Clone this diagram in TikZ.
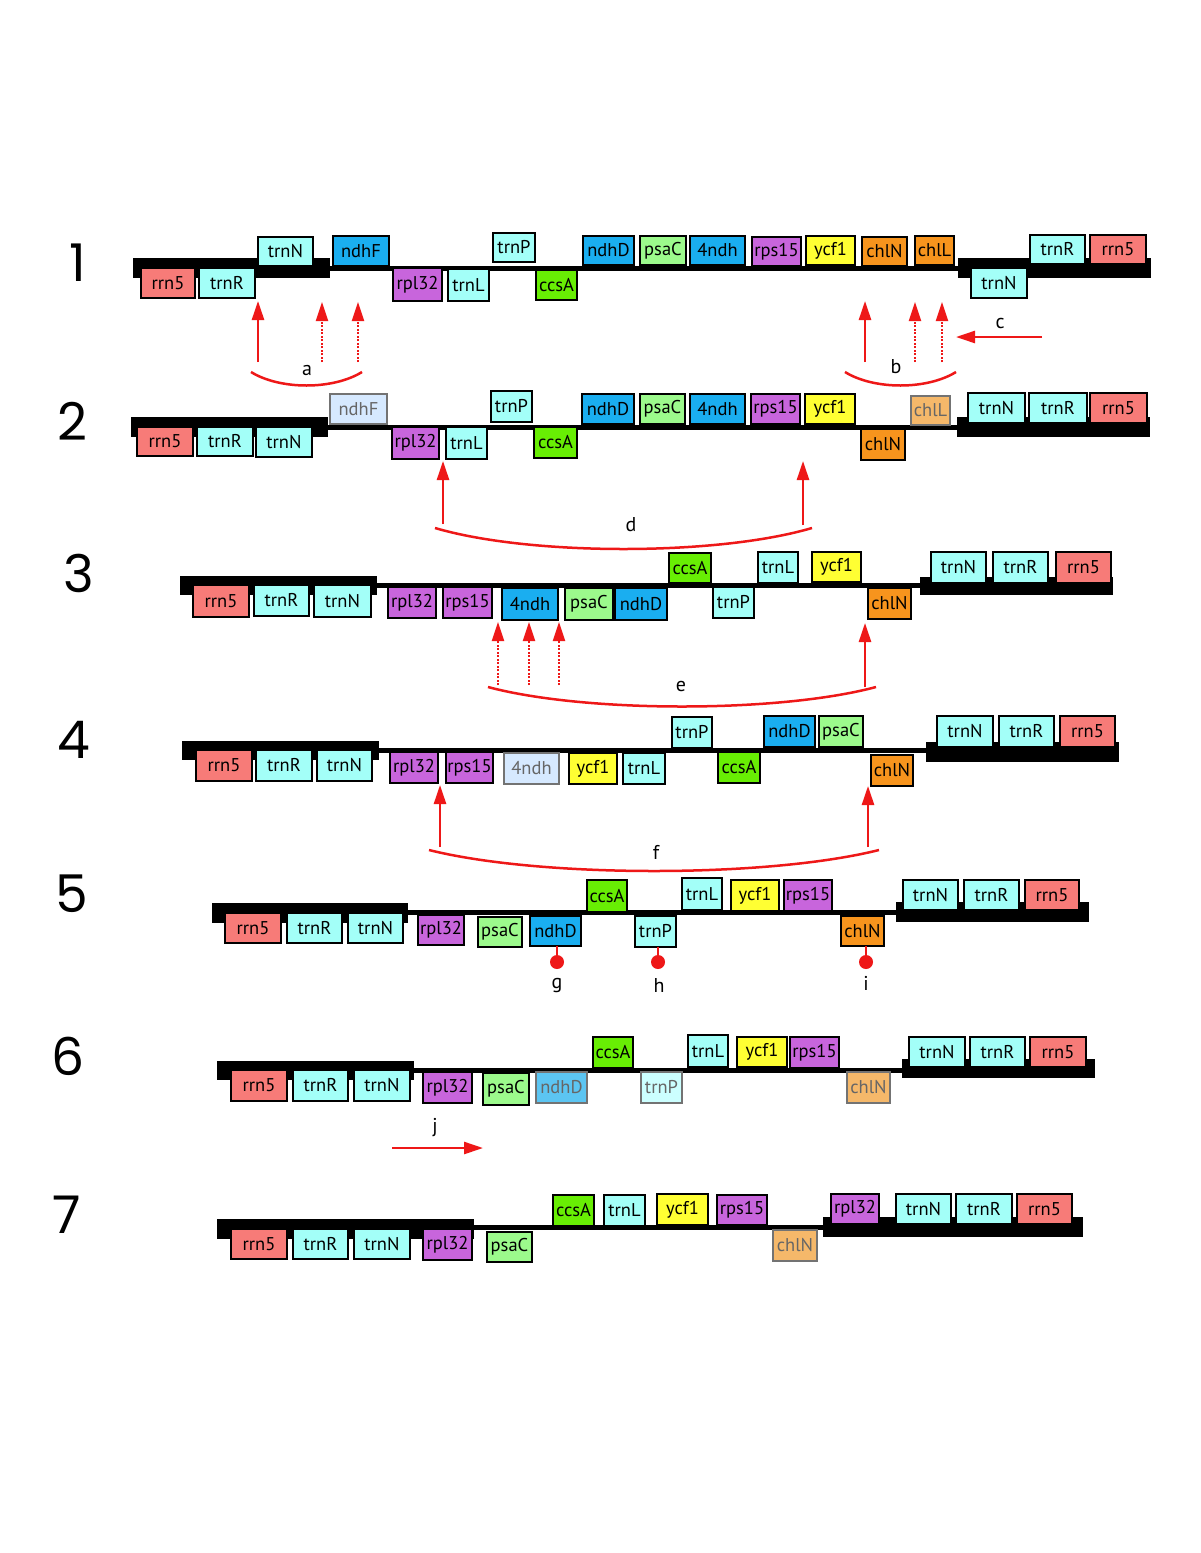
\documentclass[tikz,border=0pt]{standalone}
\usepackage{fontspec}
\setmainfont{PT Sans}
\newfontfamily\numfont{Poppins}
\usetikzlibrary{arrows.meta}
\definecolor{rrnc}{RGB}{247,123,120}
\definecolor{trnc}{RGB}{163,255,248}
\definecolor{ndhc}{RGB}{26,174,240}
\definecolor{psac}{RGB}{156,250,140}
\definecolor{rpc}{RGB}{200,101,220}
\definecolor{ycfc}{RGB}{255,255,51}
\definecolor{chlc}{RGB}{247,148,29}
\definecolor{ccsc}{RGB}{104,238,4}
\definecolor{fndhc}{RGB}{214,233,255}
\definecolor{fchlc}{RGB}{245,184,106}
\definecolor{fndhDc}{RGB}{92,197,242}
\definecolor{ftrnc}{RGB}{204,255,255}
\definecolor{arrred}{RGB}{238,24,24}
\newcommand\genefont{\fontsize{18.5}{18.5}\selectfont}
\newcommand\gn[7]{%
  \pgfmathsetmacro\gw{#5-#3}\pgfmathsetmacro\gh{#6-#4}%
  \pgfmathsetmacro\gx{(#3+#5)/2}\pgfmathsetmacro\gy{(#4+#6)/2}%
  \node[#2,minimum width=\gw pt,minimum height=\gh pt] (#1) at (\gx,\gy) {#7};}
\newcommand\bb[4]{\fill[black] (#1,#2) rectangle (#3,#4);}
\tikzset{
  gbox/.style={draw=black, line width=2.5pt, inner sep=0pt, outer sep=0pt, font=\genefont, text=black},
  rrn/.style={gbox, fill=rrnc},
  trn/.style={gbox, fill=trnc},
  ndh/.style={gbox, fill=ndhc},
  psa/.style={gbox, fill=psac},
  rp/.style={gbox, fill=rpc},
  ycf/.style={gbox, fill=ycfc},
  chl/.style={gbox, fill=chlc},
  ccs/.style={gbox, fill=ccsc},
  faded/.style={gbox, draw=black!55, text=black!60},
  fndh/.style={faded, fill=fndhc},
  fchl/.style={faded, fill=fchlc},
  fndhD/.style={faded, fill=fndhDc},
  ftrn/.style={faded, fill=ftrnc},
  backbone/.style={line width=5pt, black},
  arr/.style={arrred, line width=2.5pt, -{Triangle[length=19pt,width=12pt]}},
  darr/.style={arr, line width=2.2pt, dash pattern=on 2pt off 1.5pt},
  arcline/.style={arrred, line width=2.5pt},
  lbl/.style={font=\fontsize{20}{20}\selectfont, inner sep=0pt},
  rownum/.style={font=\numfont\fontsize{52}{52}\selectfont, inner sep=0pt},
  lolli/.style={arrred, line width=2pt},
}
\begin{document}
\begin{tikzpicture}[x=1pt,y=-1pt]
\useasboundingbox (0,0) rectangle (1200,1553);
\fill[white] (0,0) rectangle (1200,1553);
% ---------- row numbers
\node[rownum] (n1) at (78,263) {1};
\node[rownum] (n2) at (72,421) {2};
\node[rownum] (n3) at (79,573) {3};
\node[rownum] (n4) at (74,740) {4};
\node[rownum] (n5) at (72,894) {5};
\node[rownum] (n6) at (68,1056) {6};
\node[rownum] (n7) at (67,1215) {7};
% ---------- row 1
\bb{133}{258}{330}{278}\bb{958}{258}{1151}{278}
\draw[backbone] (330,268) -- (958,268);
\gn{a1}{rrn}{141}{268}{195}{298}{rrn5}
\gn{a2}{trn}{199}{268}{255}{298}{trnR}
\gn{a3}{trn}{258}{237}{313}{266}{trnN}
\gn{a4}{ndh}{333}{236}{389}{266}{ndhF}
\gn{a5}{rp}{393}{268}{442}{301}{rpl32}
\gn{a6}{trn}{448}{269}{489}{301}{trnL}
\gn{a7}{trn}{493}{233}{535}{262}{trnP}
\gn{a8}{ccs}{536}{270}{577}{300}{ccsA}
\gn{a9}{ndh}{583}{236}{634}{265}{ndhD}
\gn{a10}{psa}{640}{236}{686}{265}{psaC}
\gn{a11}{ndh}{690}{236}{745}{265}{4ndh}
\gn{a12}{rp}{752}{237}{801}{266}{rps15}
\gn{a13}{ycf}{806}{236}{855}{265}{ycf1}
\gn{a14}{chl}{862}{237}{907}{266}{chlN}
\gn{a15}{chl}{915}{236}{954}{265}{chlL}
\gn{a16}{trn}{971}{268}{1027}{298}{trnN}
\gn{a17}{trn}{1030}{235}{1085}{264}{trnR}
\gn{a18}{rrn}{1090}{235}{1146}{264}{rrn5}
% ---------- row 2
\bb{131}{417}{328}{437}\bb{957}{417}{1150}{437}
\draw[backbone] (328,427) -- (957,427);
\gn{b1}{rrn}{137}{427}{193}{456}{rrn5}
\gn{b2}{trn}{197}{427}{253}{456}{trnR}
\gn{b3}{trn}{256}{427}{312}{457}{trnN}
\gn{b4}{fndh}{330}{394}{387}{424}{ndhF}
\gn{b5}{rp}{392}{427}{439}{459}{rpl32}
\gn{b6}{trn}{446}{427}{487}{459}{trnL}
\gn{b7}{trn}{491}{391}{532}{422}{trnP}
\gn{b8}{ccs}{534}{427}{577}{458}{ccsA}
\gn{b9}{ndh}{582}{394}{634}{424}{ndhD}
\gn{b10}{psa}{640}{394}{685}{424}{psaC}
\gn{b11}{ndh}{690}{394}{745}{424}{4ndh}
\gn{b12}{rp}{751}{394}{800}{424}{rps15}
\gn{b13}{ycf}{805}{394}{855}{424}{ycf1}
\gn{b14}{chl}{861}{429}{905}{460}{chlN}
\gn{b15}{fchl}{911}{396}{950}{425}{chlL}
\gn{b16}{trn}{968}{393}{1025}{423}{trnN}
\gn{b17}{trn}{1029}{393}{1087}{423}{trnR}
\gn{b18}{rrn}{1090}{393}{1147}{423}{rrn5}
% ---------- row 3
\bb{180}{576}{377}{595}\bb{920}{577}{1113}{595}
\draw[backbone] (377,585) -- (920,585);
\gn{c1}{rrn}{193}{585}{249}{617}{rrn5}
\gn{c2}{trn}{254}{585}{309}{616}{trnR}
\gn{c3}{trn}{314}{585}{371}{617}{trnN}
\gn{c4}{rp}{388}{587}{436}{618}{rpl32}
\gn{c5}{rp}{443}{587}{492}{618}{rps15}
\gn{c6}{ndh}{502}{588}{558}{620}{4ndh}
\gn{c7}{psa}{565}{588}{613}{620}{psaC}
\gn{c8}{ndh}{615}{588}{667}{620}{ndhD}
\gn{c9}{ccs}{669}{553}{711}{583}{ccsA}
\gn{c10}{trn}{713}{587}{754}{618}{trnP}
\gn{c11}{trn}{758}{552}{798}{583}{trnL}
\gn{c12}{ycf}{812}{552}{861}{582}{ycf1}
\gn{c13}{chl}{868}{588}{911}{619}{chlN}
\gn{c14}{trn}{931}{552}{986}{583}{trnN}
\gn{c15}{trn}{993}{552}{1048}{583}{trnR}
\gn{c16}{rrn}{1056}{552}{1111}{583}{rrn5}
% ---------- row 4
\bb{182}{741}{379}{760}\bb{926}{742}{1119}{762}
\draw[backbone] (379,750) -- (926,750);
\gn{d1}{rrn}{196}{750}{252}{781}{rrn5}
\gn{d2}{trn}{256}{750}{312}{781}{trnR}
\gn{d3}{trn}{317}{750}{372}{781}{trnN}
\gn{d4}{rp}{390}{752}{438}{783}{rpl32}
\gn{d5}{rp}{446}{752}{493}{783}{rps15}
\gn{d6}{fndh}{504}{753}{559}{784}{4ndh}
\gn{d7}{ycf}{569}{753}{617}{784}{ycf1}
\gn{d8}{trn}{623}{753}{665}{784}{trnL}
\gn{d9}{trn}{672}{717}{712}{748}{trnP}
\gn{d10}{ccs}{718}{752}{760}{783}{ccsA}
\gn{d11}{ndh}{764}{716}{815}{747}{ndhD}
\gn{d12}{psa}{819}{716}{863}{747}{psaC}
\gn{d13}{chl}{871}{755}{913}{786}{chlN}
\gn{d14}{trn}{937}{716}{993}{747}{trnN}
\gn{d15}{trn}{999}{716}{1054}{747}{trnR}
\gn{d16}{rrn}{1060}{716}{1115}{747}{rrn5}
% ---------- row 5
\bb{212}{903}{408}{923}\bb{896}{902}{1089}{922}
\draw[backbone] (408,912) -- (896,912);
\gn{e1}{rrn}{225}{913}{281}{943}{rrn5}
\gn{e2}{trn}{287}{913}{342}{943}{trnR}
\gn{e3}{trn}{348}{913}{403}{943}{trnN}
\gn{e4}{rp}{418}{915}{464}{945}{rpl32}
\gn{e5}{psa}{478}{917}{522}{947}{psaC}
\gn{e6}{ndh}{530}{916}{581}{946}{ndhD}
\gn{e7}{ccs}{587}{880}{627}{912}{ccsA}
\gn{e8}{trn}{635}{916}{676}{947}{trnP}
\gn{e9}{trn}{682}{878}{722}{910}{trnL}
\gn{e10}{ycf}{731}{880}{779}{911}{ycf1}
\gn{e11}{rp}{784}{880}{832}{911}{rps15}
\gn{e12}{chl}{841}{916}{884}{946}{chlN}
\gn{e13}{trn}{903}{880}{958}{910}{trnN}
\gn{e14}{trn}{964}{880}{1019}{910}{trnR}
\gn{e15}{rrn}{1025}{880}{1079}{910}{rrn5}
% ---------- row 6
\bb{217}{1061}{414}{1080}\bb{902}{1059}{1095}{1078}
\draw[backbone] (414,1070) -- (902,1070);
\gn{f1}{rrn}{231}{1070}{287}{1101}{rrn5}
\gn{f2}{trn}{293}{1070}{348}{1101}{trnR}
\gn{f3}{trn}{354}{1070}{410}{1101}{trnN}
\gn{f4}{rp}{423}{1072}{472}{1103}{rpl32}
\gn{f5}{psa}{483}{1073}{529}{1105}{psaC}
\gn{f6}{fndhD}{536}{1072}{587}{1103}{ndhD}
\gn{f7}{ccs}{593}{1037}{633}{1068}{ccsA}
\gn{f8}{ftrn}{641}{1072}{682}{1103}{trnP}
\gn{f9}{trn}{688}{1035}{728}{1067}{trnL}
\gn{f10}{ycf}{737}{1037}{787}{1067}{ycf1}
\gn{f11}{rp}{790}{1037}{839}{1068}{rps15}
\gn{f12}{fchl}{847}{1072}{890}{1103}{chlN}
\gn{f13}{trn}{909}{1037}{965}{1067}{trnN}
\gn{f14}{trn}{970}{1037}{1025}{1067}{trnR}
\gn{f15}{rrn}{1030}{1037}{1086}{1067}{rrn5}
% ---------- row 7
\bb{217}{1219}{474}{1239}\bb{823}{1217}{1083}{1237}
\draw[backbone] (474,1227) -- (823,1227);
\gn{g1}{rrn}{231}{1229}{287}{1259}{rrn5}
\gn{g2}{trn}{293}{1229}{348}{1259}{trnR}
\gn{g3}{trn}{354}{1229}{410}{1259}{trnN}
\gn{g4}{rp}{423}{1229}{472}{1260}{rpl32}
\gn{g5}{psa}{487}{1232}{532}{1262}{psaC}
\gn{g6}{ccs}{553}{1195}{594}{1226}{ccsA}
\gn{g7}{trn}{604}{1195}{645}{1226}{trnL}
\gn{g8}{ycf}{657}{1194}{708}{1225}{ycf1}
\gn{g9}{rp}{717}{1195}{767}{1225}{rps15}
\gn{g10}{fchl}{773}{1230}{817}{1261}{chlN}
\gn{g11}{rp}{831}{1194}{879}{1224}{rpl32}
\gn{g12}{trn}{896}{1194}{951}{1224}{trnN}
\gn{g13}{trn}{956}{1194}{1012}{1224}{trnR}
\gn{g14}{rrn}{1017}{1194}{1072}{1224}{rrn5}
% ---------- arrows and arcs: a, b, c
\coordinate (aS) at (251,372); \coordinate (aE) at (362,372);
\draw[arcline] (aS) .. controls (280,390) and (333,390) .. (aE);
\node[lbl] (la) at (307,370) {a};
\coordinate (a1b) at (258,362); \coordinate (a1t) at (258,301);
\coordinate (a2b) at (322,362); \coordinate (a2t) at (322,302);
\coordinate (a3b) at (358,362); \coordinate (a3t) at (358,302);
\draw[arr] (a1b) -- (a1t);
\draw[darr] (a2b) -- (a2t);
\draw[darr] (a3b) -- (a3t);
\coordinate (bS) at (845,372); \coordinate (bE) at (956,372);
\draw[arcline] (bS) .. controls (874,390) and (927,390) .. (bE);
\node[lbl] (lb) at (896,367) {b};
\coordinate (b1b) at (865,362); \coordinate (b1t) at (865,301);
\coordinate (b2b) at (915,362); \coordinate (b2t) at (915,302);
\coordinate (b3b) at (942,362); \coordinate (b3t) at (942,302);
\draw[arr] (b1b) -- (b1t);
\draw[darr] (b2b) -- (b2t);
\draw[darr] (b3b) -- (b3t);
\coordinate (cS) at (1042,337); \coordinate (cE) at (956,337);
\draw[arr] (cS) -- (cE);
\node[lbl] (lc) at (1000,323) {c};
% ---------- d
\coordinate (dS) at (435,528); \coordinate (dE) at (812,528);
\draw[arcline] (dS) .. controls (530,556) and (717,556) .. (dE);
\node[lbl] (ld) at (631,525) {d};
\coordinate (d1b) at (443,524); \coordinate (d1t) at (443,461);
\coordinate (d2b) at (803,525); \coordinate (d2t) at (803,461);
\draw[arr] (d1b) -- (d1t);
\draw[arr] (d2b) -- (d2t);
% ---------- e
\coordinate (eS) at (488,687); \coordinate (eE) at (876,687);
\draw[arcline] (eS) .. controls (585,713) and (779,713) .. (eE);
\node[lbl] (le) at (681,686) {e};
\coordinate (e1b) at (498,685); \coordinate (e1t) at (498,622);
\coordinate (e2b) at (529,685); \coordinate (e2t) at (529,622);
\coordinate (e3b) at (559,685); \coordinate (e3t) at (559,622);
\coordinate (e4b) at (865,687); \coordinate (e4t) at (865,623);
\draw[darr] (e1b) -- (e1t);
\draw[darr] (e2b) -- (e2t);
\draw[darr] (e3b) -- (e3t);
\draw[arr] (e4b) -- (e4t);
% ---------- f
\coordinate (fS) at (429,850); \coordinate (fE) at (879,850);
\draw[arcline] (fS) .. controls (541,878) and (767,878) .. (fE);
\node[lbl] (lf) at (656,852) {f};
\coordinate (f1b) at (440,847); \coordinate (f1t) at (440,785);
\coordinate (f2b) at (868,847); \coordinate (f2t) at (868,786);
\draw[arr] (f1b) -- (f1t);
\draw[arr] (f2b) -- (f2t);
% ---------- lollipops g h i
\node[circle, fill=arrred, minimum size=14pt, inner sep=0pt] (pg) at (557,962) {};
\node[circle, fill=arrred, minimum size=14pt, inner sep=0pt] (ph) at (658,962) {};
\node[circle, fill=arrred, minimum size=14pt, inner sep=0pt] (pi) at (866,962) {};
\draw[lolli] (e6.south -| pg) -- (pg);
\draw[lolli] (e8.south -| ph) -- (ph);
\draw[lolli] (e12.south -| pi) -- (pi);
\node[lbl] (lg) at (557,986) {g};
\node[lbl] (lh) at (659,985) {h};
\node[lbl] (li) at (866,983) {i};
% ---------- j
\coordinate (jS) at (392,1148); \coordinate (jE) at (483,1148);
\draw[arr] (jS) -- (jE);
\node[lbl] (lj) at (435,1128) {j};
\end{tikzpicture}
\end{document}
